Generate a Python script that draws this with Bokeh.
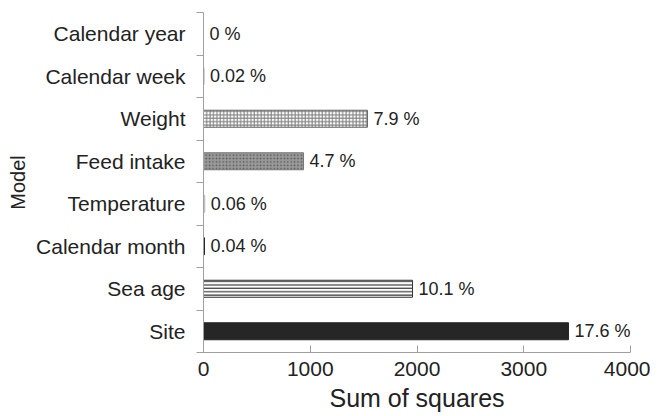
from bokeh.plotting import figure
from bokeh.models import Range1d, FixedTicker, ColumnDataSource
from bokeh.core.properties import value
from bokeh.embed import file_html
from bokeh.resources import INLINE

# Data (top to bottom as shown)
categories = ["Calendar year", "Calendar week", "Weight", "Feed intake",
              "Temperature", "Calendar month", "Sea age", "Site"]
sum_of_squares = [0, 4, 1536, 937, 12, 9, 1958, 3419]
percent_labels = ["0 %", "0.02 %", "7.9 %", "4.7 %", "0.06 %", "0.04 %", "10.1 %", "17.6 %"]
x_ticks = [0, 1000, 2000, 3000, 4000]

n = len(categories)
ypos = [n - i - 0.5 for i in range(n)]

# per-bar styles
fills = ["white", "#bdbdbd", "white", "#9a9a9a", "#cfcfcf", "#222222", "white", "#262626"]
lines = ["#888888", "#9a9a9a", "#666666", "#777777", "#bbbbbb", "#222222", "#333333", "#262626"]
hatches = [" ", " ", "+", ".", " ", " ", "-", " "]
hatch_colors = ["#888888", "#888888", "#7a7a7a", "#555555", "#888888", "#888888", "#111111", "#888888"]

src = ColumnDataSource(dict(y=ypos, v=sum_of_squares, lab=percent_labels,
                            fill=fills, line=lines, hatch=hatches, hcol=hatch_colors))

p = figure(width=650, height=416, output_backend="svg", toolbar_location=None,
           x_range=Range1d(0, 4000), y_range=Range1d(0, n),
           min_border_left=203, min_border_right=20, min_border_top=12, min_border_bottom=64)
p.outline_line_color = None
p.grid.visible = False
p.background_fill_color = "white"

p.hbar(y="y", left=0, right="v", height=0.4, source=src,
       fill_color="fill", line_color="line", line_width=1,
       hatch_pattern="hatch", hatch_color="hcol", hatch_scale=3.4, hatch_weight=1.0)

p.text(x="v", y="y", text="lab", source=src, x_offset=6,
       text_align="left", text_baseline="middle", text_color="#222222",
       text_font=value("Liberation Sans"), text_font_size=value("18px"))

font = "Liberation Sans"
# x axis
xa = p.xaxis[0]
xa.ticker = FixedTicker(ticks=x_ticks, minor_ticks=[])
xa.axis_label = "Sum of squares"
xa.axis_label_text_font = font
xa.axis_label_text_font_size = "25px"
xa.axis_label_text_font_style = "normal"
xa.axis_label_text_color = "#222222"
xa.axis_label_standoff = 5
xa.major_label_text_font = font
xa.major_label_text_font_size = "21px"
xa.major_label_text_color = "#222222"
xa.major_label_standoff = 9
xa.axis_line_color = "#a0a0a0"
xa.major_tick_line_color = "#a0a0a0"
xa.major_tick_in = 7
xa.major_tick_out = 0
xa.minor_tick_line_color = None

# y axis
ya = p.yaxis[0]
ya.ticker = FixedTicker(ticks=ypos, minor_ticks=list(range(n + 1)))
ya.major_label_overrides = {y: c for y, c in zip(ypos, categories)}
ya.axis_label = "Model"
ya.axis_label_text_font = font
ya.axis_label_text_font_size = "20px"
ya.axis_label_text_font_style = "normal"
ya.axis_label_text_color = "#222222"
ya.axis_label_standoff = 4
ya.major_label_text_font = font
ya.major_label_text_font_size = "21px"
ya.major_label_text_color = "#222222"
ya.major_label_standoff = 11
ya.axis_line_color = "#a0a0a0"
ya.major_tick_line_color = None
ya.major_tick_in = 0
ya.major_tick_out = 0
ya.minor_tick_line_color = "#a0a0a0"
ya.minor_tick_in = 0
ya.minor_tick_out = 7

open("out.html", "w").write(file_html(p, INLINE))
